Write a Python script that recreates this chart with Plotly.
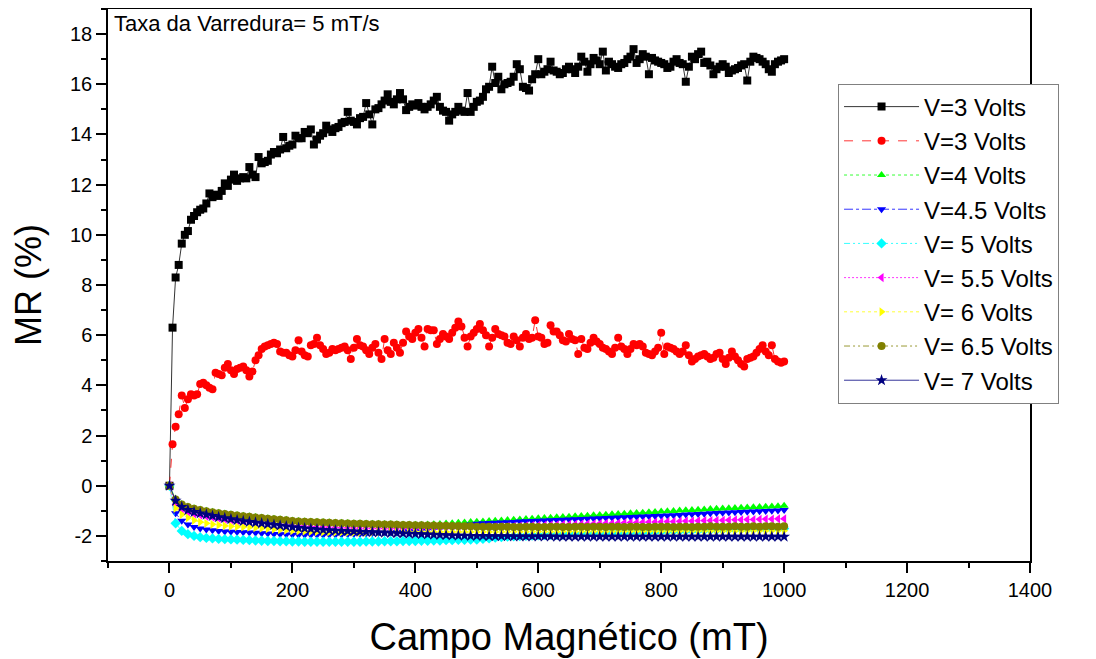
import plotly.graph_objects as go

# x positions (mT)
field_5 = list(range(0, 1001, 5))
field_10 = list(range(0, 1001, 10))

y_tick_vals = [-2, 0, 2, 4, 6, 8, 10, 12, 14, 16, 18]
y_tick_text = ["-2", "0", "2", "4", "6", "8", "10", "12", "14", "16", "18"]
x_tick_vals = [0, 200, 400, 600, 800, 1000, 1200, 1400]

mr_3v_a = [
    0.0, 6.3, 8.3, 8.8, 9.65, 10.0, 10.15, 10.6, 10.75, 10.9,
    11.0, 11.05, 11.25, 11.65, 11.5, 11.6, 11.55, 11.75, 12.05, 11.95,
    12.2, 12.4, 12.15, 12.25, 12.3, 12.25, 12.7, 12.4, 12.3, 13.1,
    12.85, 12.9, 12.95, 13.2, 13.3, 13.25, 13.4, 13.9, 13.45, 13.55,
    13.6, 13.95, 13.85, 13.85, 14.1, 14.05, 14.2, 13.6, 13.8, 13.95,
    14.05, 14.35, 14.2, 14.1, 14.25, 14.3, 14.45, 14.5, 14.9, 14.55,
    14.5, 14.4, 14.65, 14.7, 15.25, 14.8, 14.4, 15.0, 15.05, 15.2,
    15.35, 15.6, 15.3, 15.2, 15.4, 15.65, 15.4, 14.97, 15.1, 15.2,
    15.15, 15.25, 15.1, 15.0, 15.1, 15.2, 15.35, 15.5, 15.1, 14.95,
    14.9, 14.55, 14.8, 14.9, 15.1, 14.95, 14.9, 15.65, 14.9, 15.1,
    15.3, 15.35, 15.5, 15.8, 15.9, 16.7, 16.05, 16.3, 15.8, 16.0,
    16.05, 16.1, 16.3, 16.8, 16.6, 15.9, 15.85, 15.75, 16.2, 16.4,
    17.0, 16.4, 16.5, 16.6, 16.9, 16.55, 16.5, 16.4, 16.45, 16.6,
    16.7, 16.6, 16.45, 16.7, 17.1, 16.9, 16.5, 16.8, 17.05, 16.95,
    16.8, 17.3, 16.55, 16.9, 16.8, 16.7, 16.65, 16.8, 16.85, 17.0,
    17.1, 17.4, 16.85, 17.0, 17.2, 17.1, 16.4, 17.05, 16.95, 16.9,
    16.85, 16.8, 16.65, 16.7, 16.9, 17.0, 16.85, 16.8, 16.1, 16.7,
    17.1, 17.0, 17.2, 17.3, 16.85, 16.9, 16.75, 16.4, 16.6, 16.7,
    16.8, 16.7, 16.45, 16.55, 16.6, 16.65, 16.75, 16.8, 16.15, 16.9,
    17.1, 17.05, 17.0, 16.9, 16.8, 16.6, 16.5, 16.8, 16.9, 16.95,
    17.0,
]

mr_3v_b = [
    0.0, 1.65, 2.35, 2.85, 3.6, 3.1, 3.45, 3.65, 3.6, 3.65,
    4.05, 4.1, 4.0, 3.9, 3.85, 4.5, 4.45, 4.4, 4.7, 4.85,
    4.6, 4.45, 4.65, 4.7, 4.75, 4.6, 4.35, 4.55, 5.0, 5.2,
    5.45, 5.55, 5.6, 5.65, 5.7, 5.65, 5.35, 5.3, 5.3, 5.2,
    5.15, 5.4, 5.8, 5.35, 5.2, 5.15, 5.6, 5.65, 5.9, 5.6,
    5.45, 5.25, 5.3, 5.45, 5.4, 5.45, 5.5, 5.55, 5.4, 5.05,
    5.5, 5.85, 5.6, 5.55, 5.4, 5.25, 5.5, 5.65, 5.3, 5.05,
    5.85, 5.4, 5.25, 5.7, 5.5, 5.3, 5.7, 6.15, 5.95, 5.85,
    6.1, 6.25, 5.9, 5.55, 6.25, 6.2, 6.2, 5.65, 5.85, 6.05,
    5.95, 5.85, 6.1, 6.3, 6.55, 6.35, 5.9, 5.55, 5.95, 6.1,
    6.25, 6.45, 6.2, 6.0, 5.55, 5.9, 6.25, 6.05, 6.0, 5.95,
    5.7, 5.65, 5.95, 5.8, 5.55, 5.9, 6.05, 5.85, 5.9, 6.6,
    5.95, 5.9, 5.65, 5.7, 6.4, 6.15, 6.15, 6.0, 5.8, 5.75,
    6.05, 5.85, 5.8, 5.25, 5.85, 5.5, 5.45, 5.7, 5.9, 5.75,
    5.65, 5.5, 5.45, 5.35, 5.25, 5.5, 5.9, 5.55, 5.45, 5.25,
    5.45, 5.65, 5.6, 5.65, 5.55, 5.3, 5.25, 5.2, 5.35, 5.5,
    6.1, 5.25, 5.55, 5.5, 5.45, 5.35, 5.25, 5.35, 5.6, 5.2,
    4.95, 5.05, 5.15, 5.2, 5.25, 5.15, 5.05, 5.1, 5.25, 5.3,
    5.05, 4.85, 5.1, 5.35, 5.15, 5.0, 4.85, 4.75, 5.05, 5.1,
    5.15, 5.3, 5.45, 5.6, 5.35, 5.2, 5.6, 5.05, 4.95, 4.9,
    4.95,
]

mr_4v = [
    0.0, -0.52, -0.73, -0.83, -0.90, -0.95, -1.00, -1.04, -1.08, -1.11,
    -1.14, -1.17, -1.20, -1.22, -1.25, -1.27, -1.30, -1.32, -1.34, -1.36,
    -1.39, -1.41, -1.42, -1.43, -1.44, -1.45, -1.46, -1.47, -1.48, -1.49,
    -1.50, -1.50, -1.51, -1.52, -1.52, -1.53, -1.53, -1.54, -1.55, -1.55,
    -1.56, -1.56, -1.55, -1.54, -1.53, -1.51, -1.50, -1.48, -1.47, -1.45,
    -1.44, -1.43, -1.41, -1.40, -1.39, -1.37, -1.36, -1.35, -1.33, -1.32,
    -1.30, -1.29, -1.28, -1.26, -1.25, -1.24, -1.22, -1.21, -1.20, -1.18,
    -1.17, -1.16, -1.14, -1.13, -1.12, -1.10, -1.09, -1.08, -1.06, -1.05,
    -1.03, -1.02, -1.01, -0.99, -0.98, -0.97, -0.96, -0.95, -0.93, -0.92,
    -0.91, -0.90, -0.89, -0.88, -0.87, -0.86, -0.85, -0.84, -0.83, -0.82,
    -0.80,
]

mr_45v = [
    0.0, -1.10, -1.40, -1.55, -1.64, -1.70, -1.74, -1.77, -1.80, -1.82,
    -1.83, -1.84, -1.85, -1.86, -1.87, -1.89, -1.90, -1.92, -1.93, -1.94,
    -1.95, -1.96, -1.96, -1.96, -1.96, -1.96, -1.95, -1.95, -1.94, -1.93,
    -1.92, -1.91, -1.90, -1.89, -1.88, -1.87, -1.86, -1.85, -1.83, -1.81,
    -1.79, -1.77, -1.75, -1.73, -1.71, -1.68, -1.65, -1.62, -1.58, -1.55,
    -1.52, -1.50, -1.49, -1.48, -1.47, -1.46, -1.45, -1.43, -1.42, -1.41,
    -1.40, -1.39, -1.38, -1.37, -1.36, -1.35, -1.34, -1.33, -1.32, -1.31,
    -1.30, -1.29, -1.28, -1.27, -1.26, -1.25, -1.24, -1.23, -1.22, -1.21,
    -1.20, -1.19, -1.18, -1.17, -1.15, -1.14, -1.13, -1.12, -1.10, -1.09,
    -1.08, -1.07, -1.06, -1.05, -1.04, -1.03, -1.02, -1.01, -1.00, -0.99,
    -0.97,
]

mr_5v = [
    0.0, -1.50, -1.80, -1.93, -2.00, -2.05, -2.08, -2.10, -2.12, -2.13,
    -2.14, -2.15, -2.16, -2.17, -2.18, -2.19, -2.20, -2.20, -2.21, -2.21,
    -2.22, -2.22, -2.23, -2.23, -2.23, -2.23, -2.23, -2.23, -2.23, -2.23,
    -2.23, -2.23, -2.22, -2.22, -2.22, -2.21, -2.21, -2.21, -2.20, -2.20,
    -2.20, -2.19, -2.19, -2.18, -2.18, -2.17, -2.17, -2.16, -2.16, -2.15,
    -2.15, -2.12, -2.10, -2.07, -2.05, -2.03, -2.02, -2.01, -2.00, -1.99,
    -1.98, -1.97, -1.96, -1.96, -1.95, -1.94, -1.93, -1.92, -1.91, -1.91,
    -1.90, -1.89, -1.88, -1.87, -1.86, -1.86, -1.85, -1.84, -1.83, -1.82,
    -1.82, -1.81, -1.80, -1.80, -1.79, -1.78, -1.78, -1.77, -1.76, -1.76,
    -1.75, -1.74, -1.74, -1.73, -1.73, -1.72, -1.72, -1.71, -1.71, -1.70,
    -1.70,
]

mr_55v = [
    0.0, -0.75, -0.95, -1.05, -1.12, -1.17, -1.22, -1.26, -1.30, -1.33,
    -1.36, -1.39, -1.42, -1.44, -1.46, -1.48, -1.50, -1.52, -1.54, -1.56,
    -1.58, -1.60, -1.61, -1.62, -1.63, -1.64, -1.65, -1.66, -1.67, -1.68,
    -1.68, -1.69, -1.69, -1.70, -1.70, -1.70, -1.71, -1.71, -1.71, -1.71,
    -1.71, -1.71, -1.70, -1.70, -1.70, -1.69, -1.69, -1.68, -1.68, -1.67,
    -1.66, -1.65, -1.65, -1.64, -1.63, -1.62, -1.62, -1.61, -1.60, -1.59,
    -1.58, -1.58, -1.57, -1.56, -1.55, -1.55, -1.54, -1.53, -1.52, -1.52,
    -1.51, -1.50, -1.50, -1.49, -1.48, -1.47, -1.47, -1.46, -1.45, -1.45,
    -1.44, -1.43, -1.43, -1.42, -1.41, -1.41, -1.40, -1.39, -1.39, -1.38,
    -1.38, -1.37, -1.36, -1.36, -1.35, -1.35, -1.34, -1.33, -1.33, -1.32,
    -1.32,
]

mr_6v = [
    0.0, -0.90, -1.15, -1.28, -1.38, -1.45, -1.50, -1.54, -1.57, -1.60,
    -1.62, -1.63, -1.64, -1.65, -1.67, -1.69, -1.71, -1.73, -1.75, -1.77,
    -1.79, -1.80, -1.81, -1.82, -1.83, -1.84, -1.84, -1.85, -1.85, -1.85,
    -1.85, -1.85, -1.85, -1.85, -1.85, -1.85, -1.85, -1.85, -1.85, -1.85,
    -1.85, -1.85, -1.85, -1.84, -1.84, -1.84, -1.84, -1.84, -1.84, -1.84,
    -1.84, -1.84, -1.84, -1.84, -1.84, -1.83, -1.83, -1.83, -1.83, -1.83,
    -1.83, -1.83, -1.83, -1.83, -1.82, -1.82, -1.82, -1.82, -1.82, -1.82,
    -1.82, -1.82, -1.82, -1.81, -1.81, -1.81, -1.81, -1.81, -1.81, -1.81,
    -1.81, -1.81, -1.80, -1.80, -1.80, -1.80, -1.80, -1.80, -1.80, -1.80,
    -1.80, -1.80, -1.80, -1.80, -1.79, -1.79, -1.79, -1.79, -1.79, -1.79,
    -1.79,
]

mr_65v = [
    0.0, -0.55, -0.75, -0.85, -0.92, -0.97, -1.02, -1.06, -1.10, -1.13,
    -1.16, -1.19, -1.22, -1.24, -1.27, -1.29, -1.32, -1.34, -1.36, -1.38,
    -1.41, -1.43, -1.44, -1.45, -1.46, -1.47, -1.48, -1.49, -1.50, -1.51,
    -1.52, -1.52, -1.53, -1.54, -1.54, -1.55, -1.55, -1.56, -1.57, -1.57,
    -1.58, -1.58, -1.59, -1.59, -1.60, -1.60, -1.61, -1.61, -1.62, -1.62,
    -1.63, -1.63, -1.63, -1.64, -1.63, -1.63, -1.64, -1.64, -1.63, -1.63,
    -1.64, -1.64, -1.63, -1.63, -1.64, -1.64, -1.63, -1.63, -1.64, -1.63,
    -1.63, -1.64, -1.63, -1.63, -1.64, -1.63, -1.63, -1.64, -1.64, -1.63,
    -1.63, -1.63, -1.64, -1.63, -1.63, -1.64, -1.63, -1.63, -1.62, -1.63,
    -1.63, -1.63, -1.62, -1.63, -1.63, -1.62, -1.63, -1.62, -1.62, -1.63,
    -1.62,
]

mr_7v = [
    0.0, -0.60, -0.85, -0.97, -1.05, -1.10, -1.15, -1.20, -1.25, -1.29,
    -1.33, -1.37, -1.41, -1.44, -1.47, -1.50, -1.53, -1.56, -1.59, -1.62,
    -1.65, -1.68, -1.70, -1.72, -1.74, -1.76, -1.77, -1.79, -1.80, -1.81,
    -1.82, -1.83, -1.84, -1.85, -1.86, -1.87, -1.88, -1.89, -1.90, -1.91,
    -1.92, -1.93, -1.94, -1.95, -1.96, -1.97, -1.98, -1.99, -1.99, -2.00,
    -2.00, -2.00, -2.01, -2.01, -2.01, -2.01, -2.02, -2.02, -2.02, -2.02,
    -2.02, -2.02, -2.02, -2.03, -2.03, -2.03, -2.03, -2.03, -2.03, -2.03,
    -2.03, -2.03, -2.03, -2.03, -2.03, -2.03, -2.03, -2.03, -2.03, -2.03,
    -2.03, -2.03, -2.03, -2.03, -2.03, -2.03, -2.03, -2.03, -2.03, -2.03,
    -2.03, -2.03, -2.03, -2.03, -2.03, -2.03, -2.03, -2.03, -2.03, -2.03,
    -2.03,
]

series = [
    ("V=3 Volts", field_5, mr_3v_a, "#000000", "square", "solid", 8),
    ("V=3 Volts", field_5, mr_3v_b, "#FF0000", "circle", "dash", 8),
    ("V=4 Volts", field_10, mr_4v, "#00FF00", "triangle-up", "dot", 8),
    ("V=4.5 Volts", field_10, mr_45v, "#0000FF", "triangle-down", "dashdot", 8),
    ("V= 5 Volts", field_10, mr_5v, "#00FFFF", "diamond", "6px,3px,2px,3px,2px,3px", 8),
    ("V= 5.5 Volts", field_10, mr_55v, "#FF00FF", "triangle-left", "2px,2px", 8),
    ("V= 6 Volts", field_10, mr_6v, "#FFFF00", "triangle-right", "dot", 8),
    ("V= 6.5 Volts", field_10, mr_65v, "#808000", "circle", "6px,3px,2px,3px,2px,3px", 8),
    ("V= 7 Volts", field_10, mr_7v, "#000080", "star", "solid", 9),
]

FONT = "Arial, 'Liberation Sans', sans-serif"

fig = go.Figure()
for name, xs, ys, color, sym, dash, size in series:
    fig.add_trace(go.Scatter(
        x=xs, y=ys, name=name, mode="lines+markers",
        line=dict(color=color, width=0.8, dash=dash),
        marker=dict(symbol=sym, size=size, color=color, line=dict(width=0)),
    ))

fig.update_layout(
    width=1088, height=651,
    paper_bgcolor="white", plot_bgcolor="white",
    margin=dict(l=100, r=66, t=1, b=98, autoexpand=False),
    font=dict(family=FONT, color="black"),
    showlegend=True,
    legend=dict(
        x=0.7918, y=0.865, xanchor="left", yanchor="top",
        bgcolor="white", bordercolor="#808080", borderwidth=1,
        font=dict(size=24, family=FONT),
        itemwidth=75,
    ),
    xaxis=dict(
        range=[-100, 1400], tickvals=x_tick_vals,
        ticks="outside", ticklen=10, tickwidth=1.5, tickcolor="black",
        minor=dict(dtick=100, tick0=0, ticks="outside", ticklen=5, tickwidth=1.5, tickcolor="black"),
        showline=True, linecolor="black", linewidth=1.5, mirror=True,
        showgrid=False, zeroline=False,
        tickfont=dict(size=20, family=FONT),
        title=dict(text="Campo Magnético (mT)", font=dict(size=38, family=FONT), standoff=24),
    ),
    yaxis=dict(
        range=[-3, 19], tickvals=y_tick_vals, ticktext=y_tick_text,
        ticks="outside", ticklen=10, tickwidth=1.5, tickcolor="black",
        minor=dict(dtick=1, tick0=0, ticks="outside", ticklen=5, tickwidth=1.5, tickcolor="black"),
        showline=True, linecolor="black", linewidth=1.5, mirror=True,
        showgrid=False, zeroline=False,
        tickfont=dict(size=20, family=FONT),
        title=dict(text="MR (%)", font=dict(size=36, family=FONT), standoff=24),
    ),
    annotations=[dict(
        text="Taxa da Varredura= 5 mT/s", xref="paper", yref="paper",
        x=0, y=1, xanchor="left", yanchor="top", xshift=4, yshift=0,
        showarrow=False, font=dict(size=22, family=FONT),
    )],
)

fig.write_html("out.html")
